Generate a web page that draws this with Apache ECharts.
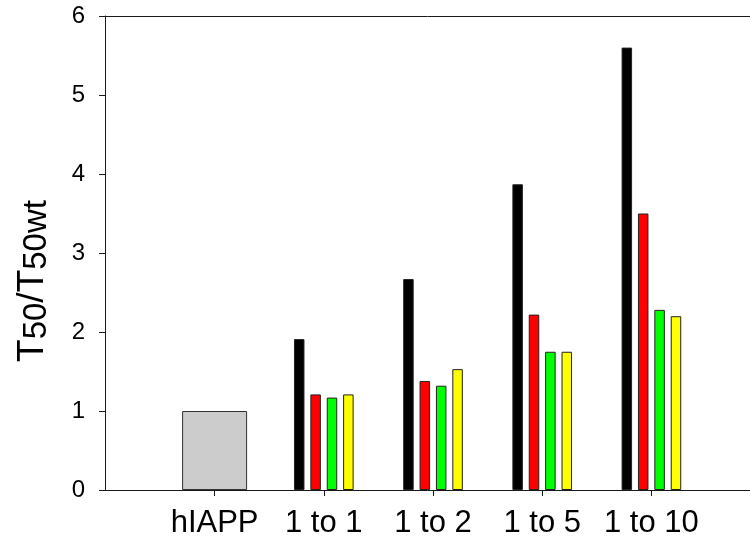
<!DOCTYPE html>
<html>
<head>
<meta charset="utf-8">
<title>T50/T50wt</title>
<script src="https://cdn.jsdelivr.net/npm/echarts@6/dist/echarts.min.js"></script>
<style>
    html, body { margin: 0; padding: 0; background: #fff; }
    #main { width: 750px; height: 551px; }
</style>
</head>
<body>
<div id="main"></div>
<script>
// 数据
var categories = ['hIAPP', '1 to 1', '1 to 2', '1 to 5', '1 to 10'];
var hiappValues = [1.0, '-', '-', '-', '-'];
var blackValues = ['-', 1.91, 2.67, 3.87, 5.60];
var redValues = ['-', 1.21, 1.38, 2.22, 3.50];
var greenValues = ['-', 1.17, 1.32, 1.75, 2.28];
var yellowValues = ['-', 1.21, 1.53, 1.75, 2.20];
var yTicks = [0, 1, 2, 3, 4, 5, 6];

var font = 'Liberation Sans, Arial, sans-serif';
var lineColor = '#1a1a1a';

function colorBar(name, values, color) {
    return {
        name: name,
        type: 'bar',
        xAxisIndex: 2,
        yAxisIndex: 1,
        barWidth: 10.5,
        barGap: '56%',
        data: values,
        itemStyle: { color: color, borderColor: '#222', borderWidth: 1 }
    };
}

var chart = echarts.init(document.getElementById('main'));
var option = {
    animation: false,
    backgroundColor: '#fff',
    grid: [
        // 框线 + y轴
        { left: 105, right: 0, top: 16, bottom: 61 },
        // 柱子
        { left: 160, right: 44, top: 16, bottom: 61 }
    ],
    xAxis: [
        {
            gridIndex: 0, type: 'value', position: 'bottom', min: 0, max: 1,
            axisLine: { show: true, lineStyle: { color: lineColor, width: 1 } },
            axisTick: { show: false }, axisLabel: { show: false }, splitLine: { show: false }
        },
        {
            gridIndex: 0, type: 'value', position: 'top', min: 0, max: 1,
            axisLine: { show: true, lineStyle: { color: lineColor, width: 1 } },
            axisTick: { show: false }, axisLabel: { show: false }, splitLine: { show: false }
        },
        {
            gridIndex: 1, type: 'category', data: categories, position: 'bottom',
            axisLine: { show: false },
            axisTick: { show: true, alignWithLabel: true, interval: 0, inside: false, length: 6, lineStyle: { color: lineColor } },
            axisLabel: { interval: 0, hideOverlap: false, margin: 18, color: '#000', fontSize: 31, fontFamily: font },
            splitLine: { show: false }
        },
        {
            gridIndex: 1, type: 'category', data: categories, show: false
        }
    ],
    yAxis: [
        {
            gridIndex: 0, type: 'value', min: yTicks[0], max: yTicks[yTicks.length - 1], interval: 1,
            axisLine: { show: true, lineStyle: { color: lineColor, width: 1 } },
            axisTick: { show: true, inside: false, length: 6, lineStyle: { color: lineColor } },
            axisLabel: { margin: 20, color: '#000', fontSize: 24, fontFamily: font },
            splitLine: { show: false },
            name: '{m|T}{s|50}{m|/T}{s|50wt}',
            nameLocation: 'middle',
            nameRotate: 90,
            nameGap: 52,
            nameTextStyle: {
                padding: [0, 56, 0, 0],
                rich: {
                    m: { fontSize: 37, fontFamily: font, color: '#000', lineHeight: 40 },
                    s: { fontSize: 33, fontFamily: font, color: '#000', lineHeight: 34, verticalAlign: 'bottom' }
                }
            }
        },
        {
            gridIndex: 1, type: 'value', min: yTicks[0], max: yTicks[yTicks.length - 1], show: false,
            splitLine: { show: false }
        }
    ],
    series: [
        {
            name: 'hIAPP',
            type: 'bar',
            xAxisIndex: 3,
            yAxisIndex: 1,
            barWidth: 65,
            data: hiappValues,
            itemStyle: { color: '#cccccc', borderColor: '#333', borderWidth: 1 }
        },
        colorBar('black', blackValues, '#000000'),
        colorBar('red', redValues, '#ff0000'),
        colorBar('green', greenValues, '#00ff00'),
        colorBar('yellow', yellowValues, '#ffff00')
    ]
};
chart.setOption(option);
</script>
</body>
</html>
